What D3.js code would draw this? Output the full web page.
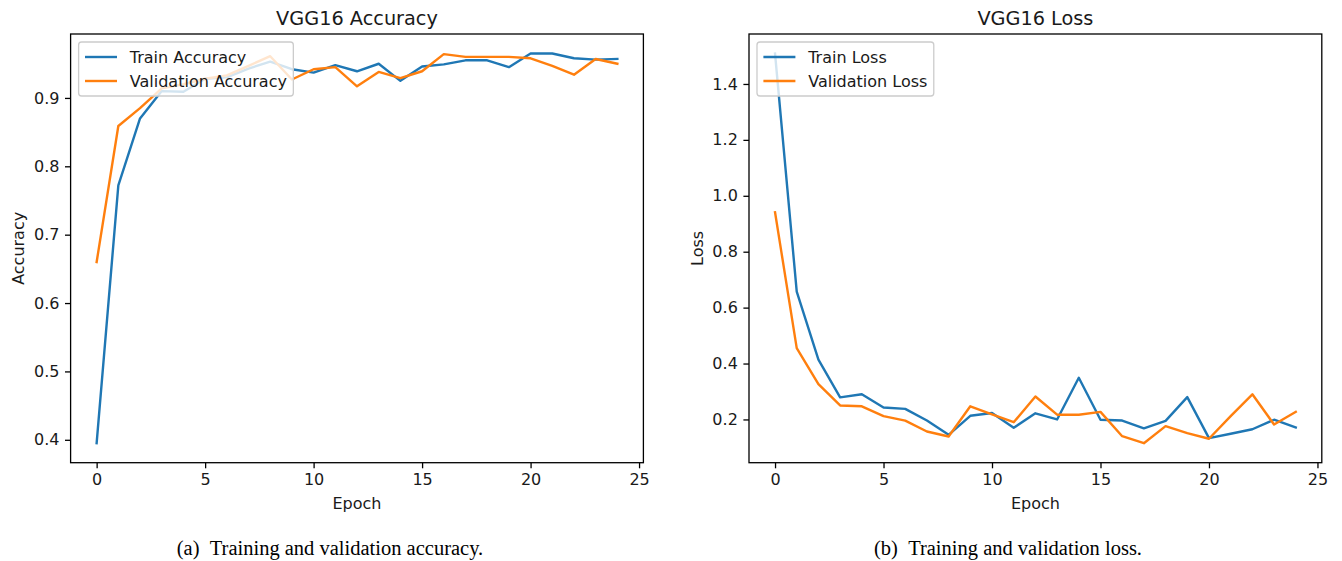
<!DOCTYPE html>
<html>
<head>
<meta charset="utf-8">
<script src="https://cdn.jsdelivr.net/npm/d3@7/dist/d3.min.js"></script>
<style>
  html, body { margin: 0; padding: 0; background: #fff; }
  svg { display: block; }
  .tick text { font-family: "DejaVu Sans", sans-serif; font-size: 16px; fill: #1a1a1a; }
</style>
</head>
<body>
<svg id="chart" width="1342" height="561"></svg>
<script>
// Training history of VGG16 over 25 epochs
const epochs = d3.range(0, 25);

const trainAccuracy = [0.395, 0.772, 0.870, 0.910, 0.909, 0.928, 0.930, 0.943, 0.953, 0.942,
                       0.937, 0.948, 0.939, 0.950, 0.925, 0.946, 0.949, 0.955, 0.955, 0.945,
                       0.965, 0.965, 0.958, 0.956, 0.957];
const valAccuracy   = [0.660, 0.859, 0.885, 0.914, 0.920, 0.928, 0.933, 0.947, 0.961, 0.927,
                       0.942, 0.945, 0.917, 0.938, 0.929, 0.939, 0.964, 0.960, 0.960, 0.960,
                       0.958, 0.947, 0.934, 0.957, 0.950];

const trainLoss = [1.509, 0.657, 0.414, 0.279, 0.290, 0.243, 0.238, 0.196, 0.145, 0.213,
                   0.223, 0.170, 0.222, 0.200, 0.349, 0.199, 0.196, 0.168, 0.195, 0.280,
                   0.133, 0.149, 0.165, 0.199, 0.171];
const valLoss   = [0.941, 0.455, 0.326, 0.250, 0.247, 0.212, 0.196, 0.157, 0.139, 0.247,
                   0.218, 0.190, 0.282, 0.217, 0.217, 0.227, 0.140, 0.115, 0.176, 0.151,
                   0.131, 0.212, 0.290, 0.182, 0.227];

const xTicks = [0, 5, 10, 15, 20, 25];
const accTicks = [0.4, 0.5, 0.6, 0.7, 0.8, 0.9];
const lossTicks = [0.2, 0.4, 0.6, 0.8, 1.0, 1.2, 1.4];

const panels = [
  {
    title: "VGG16 Accuracy", ylabel: "Accuracy",
    caption: "(a)\u2002Training and validation accuracy.",
    series: [
      { name: "Train Accuracy", values: trainAccuracy, color: "#1f77b4" },
      { name: "Validation Accuracy", values: valAccuracy, color: "#ff7f0e" }
    ],
    yTicks: accTicks, left: 70.6, captionX: 330
  },
  {
    title: "VGG16 Loss", ylabel: "Loss",
    caption: "(b)\u2002Training and validation loss.",
    series: [
      { name: "Train Loss", values: trainLoss, color: "#1f77b4" },
      { name: "Validation Loss", values: valLoss, color: "#ff7f0e" }
    ],
    yTicks: lossTicks, left: 749, captionX: 1008
  }
];

const svg = d3.select("#chart");
svg.append("rect").attr("width", 1342).attr("height", 561).attr("fill", "#fff");

const plotW = 572.8, plotTop = 34, plotBottom = 462.7;
const fs = 16;              // base font size
const tickLen = 5.6, tickPad = 5.6;
const textColor = "#1a1a1a";

// pad a data range by 5% on each side
function padded(lo, hi) {
  const m = (hi - lo) * 0.05;
  return [lo - m, hi + m];
}

panels.forEach(p => {
  const g = svg.append("g");
  const x = d3.scaleLinear()
    .domain(padded(0, epochs[epochs.length - 1]))
    .range([p.left, p.left + plotW]);
  const all = p.series.flatMap(s => s.values);
  const y = d3.scaleLinear()
    .domain(padded(d3.min(all), d3.max(all)))
    .range([plotBottom, plotTop]);

  // data lines
  const line = d3.line().x((d, i) => x(epochs[i])).y(d => y(d));
  p.series.forEach(s => {
    g.append("path")
      .datum(s.values)
      .attr("d", line)
      .attr("fill", "none")
      .attr("stroke", s.color)
      .attr("stroke-width", 2.4)
      .attr("stroke-linejoin", "round")
      .attr("stroke-linecap", "square");
  });

  // axes
  const xAxis = d3.axisBottom(x).tickValues(xTicks).tickFormat(d3.format("d"))
    .tickSize(tickLen).tickPadding(tickPad).tickSizeOuter(0);
  const yAxis = d3.axisLeft(y).tickValues(p.yTicks).tickFormat(d3.format(".1f"))
    .tickSize(tickLen).tickPadding(tickPad).tickSizeOuter(0);

  const gx = g.append("g").attr("transform", `translate(0,${plotBottom})`).call(xAxis);
  const gy = g.append("g").attr("transform", `translate(${p.left},0)`).call(yAxis);
  [gx, gy].forEach(a => {
    a.select(".domain").remove();
    a.selectAll(".tick line").attr("stroke", "#000").attr("stroke-width", 1.3);
    a.selectAll(".tick text").attr("fill", textColor);
  });

  // frame
  g.append("rect")
    .attr("x", p.left).attr("y", plotTop)
    .attr("width", plotW).attr("height", plotBottom - plotTop)
    .attr("fill", "none").attr("stroke", "#000").attr("stroke-width", 1.3);

  // title
  g.append("text")
    .attr("x", p.left + plotW / 2).attr("y", 24.5)
    .attr("text-anchor", "middle")
    .attr("font-family", "DejaVu Sans, sans-serif").attr("font-size", 19.3)
    .attr("fill", textColor)
    .text(p.title);

  // axis labels
  g.append("text")
    .attr("x", p.left + plotW / 2).attr("y", 509)
    .attr("text-anchor", "middle")
    .attr("font-family", "DejaVu Sans, sans-serif").attr("font-size", fs)
    .attr("fill", textColor)
    .text("Epoch");
  g.append("text")
    .attr("transform", `translate(${p.left - 46.5},${(plotTop + plotBottom) / 2}) rotate(-90)`)
    .attr("text-anchor", "middle")
    .attr("font-family", "DejaVu Sans, sans-serif").attr("font-size", fs)
    .attr("fill", textColor)
    .text(p.ylabel);

  // legend (upper left)
  const lg = g.append("g");
  const lx = p.left + 8, ly = plotTop + 8;
  const box = lg.append("rect");
  const rowH = 24, pad = 6.4;
  let maxW = 0;
  p.series.forEach((s, i) => {
    const cy = ly + pad + 8.6 + i * rowH;
    lg.append("line")
      .attr("x1", lx + pad).attr("x2", lx + pad + 32)
      .attr("y1", cy).attr("y2", cy)
      .attr("stroke", s.color).attr("stroke-width", 2.4);
    const t = lg.append("text")
      .attr("x", lx + pad + 32 + 12.8).attr("y", cy)
      .attr("dy", "0.36em")
      .attr("font-family", "DejaVu Sans, sans-serif").attr("font-size", fs)
      .attr("fill", textColor)
      .text(s.name);
    maxW = Math.max(maxW, t.node().getComputedTextLength());
  });
  box.attr("x", lx).attr("y", ly)
    .attr("width", pad + 32 + 12.8 + maxW + pad)
    .attr("height", pad * 2 + 17.2 + rowH * (p.series.length - 1))
    .attr("rx", 3).attr("ry", 3)
    .attr("fill", "#fff").attr("fill-opacity", 0.8)
    .attr("stroke", "#ccc").attr("stroke-width", 1.3);

  // sub-figure caption
  svg.append("text")
    .attr("x", p.captionX).attr("y", 555)
    .attr("text-anchor", "middle")
    .attr("font-family", "Liberation Serif, Times New Roman, serif").attr("font-size", 20.5)
    .attr("fill", "#000")
    .text(p.caption);
});
</script>
</body>
</html>
